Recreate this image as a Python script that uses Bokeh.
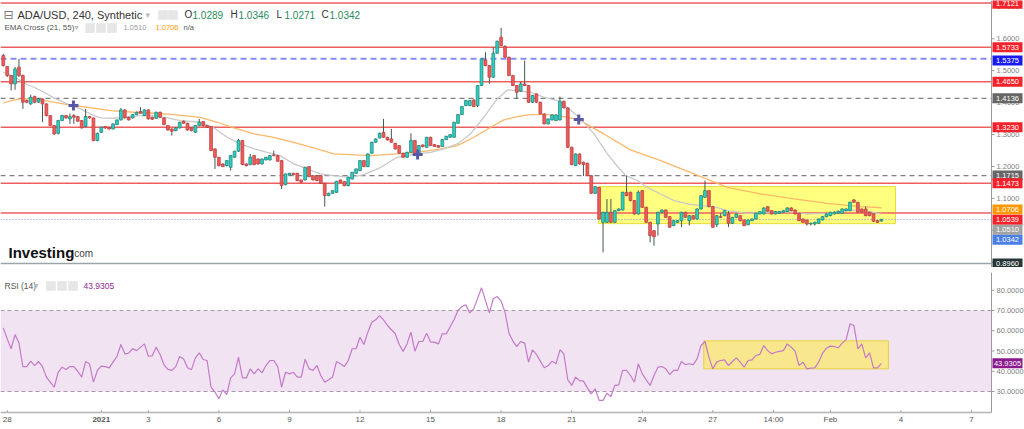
import pandas as pd
from bokeh.plotting import figure
from bokeh.layouts import column
from bokeh.models import Range1d, Label, BoxAnnotation, ColumnDataSource
from bokeh.core.properties import value
from bokeh.embed import file_html
from bokeh.resources import INLINE

FONT = "Liberation Sans"

# ---------------- data ----------------
symbol_title = "ADA/USD, 240, Synthetic"
first_bar_time = "2020-12-27 20:00"

opens = [
    1.5475, 1.5130, 1.4848, 1.4587, 1.5109, 1.4848, 1.4064, 1.3960, 1.4189, 1.4012,
    1.4116, 1.3960, 1.3594, 1.3280, 1.3040, 1.3437, 1.3594, 1.3489, 1.3594, 1.3562,
    1.3437, 1.3249, 1.3562, 1.3521, 1.2810, 1.3071, 1.3249, 1.3228, 1.3176, 1.3312,
    1.3458, 1.3771, 1.3541, 1.3521, 1.3625, 1.3719, 1.3594, 1.3771, 1.3541, 1.3510,
    1.3698, 1.3521, 1.3280, 1.3176, 1.3124, 1.3207, 1.3416, 1.3353, 1.3207, 1.3071,
    1.3280, 1.3406, 1.3280, 1.3249, 1.2550, 1.2288, 1.2079, 1.2026, 1.1974, 1.2288,
    1.2476, 1.2810, 1.2079, 1.2058, 1.2340, 1.2235, 1.2079, 1.2204, 1.2204, 1.2361,
    1.2340, 1.2183, 1.1431, 1.1734, 1.1786, 1.1786, 1.1577, 1.1577, 1.1995, 1.1713,
    1.1713, 1.1713, 1.1472, 1.1086, 1.1159, 1.1190, 1.1577, 1.1525, 1.1399, 1.1608,
    1.1786, 1.1870, 1.2183, 1.1995, 1.2413, 1.2758, 1.2893, 1.3071, 1.2914, 1.2862,
    1.2726, 1.2653, 1.2413, 1.2288, 1.2444, 1.2810, 1.2392, 1.2674, 1.2601, 1.2914,
    1.2685, 1.2653, 1.2622, 1.2841, 1.2914, 1.2914, 1.3353, 1.3625, 1.3907, 1.3907,
    1.4085, 1.3907, 1.4534, 1.5339, 1.5161, 1.4796, 1.5548, 1.6047, 1.5757, 1.5422,
    1.4848, 1.4534, 1.4357, 1.4587, 1.4534, 1.4012, 1.4273, 1.4012, 1.3646, 1.3333,
    1.3458, 1.3437, 1.3458, 1.4043, 1.3834, 1.2601, 1.2026, 1.2392, 1.2131, 1.2100,
    1.1713, 1.1159, 1.1347, 1.0250, 1.0250, 1.0564, 1.0250, 1.0616, 1.0637, 1.1191,
    1.1191, 1.0930, 1.0512, 1.1243, 1.0720, 1.0250, 0.9989, 1.0198, 1.0564, 1.0637,
    1.0428, 1.0146, 1.0250, 1.0302, 1.0564, 1.0302, 1.0459, 1.0355, 1.0668, 1.1034,
    1.1243, 1.0741, 1.0177, 1.0428, 1.0459, 1.0512, 1.0219, 1.0407, 1.0459, 1.0323,
    1.0177, 1.0302, 1.0355, 1.0512, 1.0512, 1.0741, 1.0616, 1.0512, 1.0533, 1.0564,
    1.0595, 1.0700, 1.0637, 1.0533, 1.0355, 1.0323, 1.0198, 1.0198, 1.0219, 1.0323,
    1.0428, 1.0459, 1.0512, 1.0533, 1.0533, 1.0616, 1.0616, 1.0950, 1.0877, 1.0668,
    1.0668, 1.0564, 1.0512, 1.0302, 1.0289,
]
highs = [
    1.5527, 1.5150, 1.4860, 1.5120, 1.5370, 1.4880, 1.4100, 1.4250, 1.4220, 1.4150,
    1.4130, 1.3980, 1.3610, 1.3290, 1.3460, 1.3620, 1.3620, 1.3660, 1.3640, 1.3580,
    1.3450, 1.3803, 1.3580, 1.3530, 1.3060, 1.3250, 1.3270, 1.3240, 1.3350, 1.3470,
    1.3830, 1.3790, 1.3560, 1.3640, 1.3720, 1.3855, 1.3790, 1.3790, 1.3560, 1.3720,
    1.3720, 1.3540, 1.3300, 1.3190, 1.3230, 1.3400, 1.3440, 1.3370, 1.3220, 1.3300,
    1.3489, 1.3420, 1.3300, 1.3260, 1.2570, 1.2300, 1.2100, 1.2200, 1.2360, 1.2490,
    1.2862, 1.2830, 1.2100, 1.2392, 1.2360, 1.2250, 1.2250, 1.2300, 1.2360, 1.2497,
    1.2360, 1.2200, 1.1780, 1.1800, 1.1800, 1.1800, 1.1590, 1.1990, 1.2010, 1.1730,
    1.1730, 1.1730, 1.1490, 1.1180, 1.1260, 1.1550, 1.1590, 1.1540, 1.1680, 1.1830,
    1.1940, 1.2200, 1.2200, 1.2410, 1.2780, 1.2880, 1.3060, 1.3489, 1.2930, 1.3176,
    1.2740, 1.2670, 1.2430, 1.2460, 1.3040, 1.2830, 1.2670, 1.2690, 1.2930, 1.2930,
    1.2700, 1.2670, 1.2860, 1.2960, 1.3010, 1.3400, 1.3640, 1.3890, 1.4080, 1.4090,
    1.4100, 1.4550, 1.5390, 1.5579, 1.5180, 1.5736, 1.5940, 1.6342, 1.5800, 1.5440,
    1.4860, 1.4550, 1.4650, 1.5318, 1.4550, 1.4240, 1.4290, 1.4030, 1.3660, 1.3500,
    1.3640, 1.3640, 1.4189, 1.4060, 1.3850, 1.2620, 1.2410, 1.2410, 1.2150, 1.2120,
    1.1730, 1.1380, 1.1360, 1.0580, 1.0980, 1.0982, 1.0630, 1.0690, 1.1210, 1.1713,
    1.1210, 1.0950, 1.1250, 1.1260, 1.0740, 1.0270, 1.0010, 1.0580, 1.0650, 1.0650,
    1.0440, 1.0320, 1.0320, 1.0580, 1.0580, 1.0480, 1.0480, 1.0690, 1.1100, 1.1557,
    1.1260, 1.0760, 1.0480, 1.0530, 1.0630, 1.0600, 1.0420, 1.0530, 1.0480, 1.0340,
    1.0340, 1.0370, 1.0550, 1.0600, 1.0720, 1.0760, 1.0630, 1.0600, 1.0600, 1.0630,
    1.0720, 1.0720, 1.0650, 1.0550, 1.0370, 1.0340, 1.0240, 1.0270, 1.0370, 1.0440,
    1.0530, 1.0580, 1.0600, 1.0620, 1.0690, 1.0690, 1.0900, 1.0980, 1.0890, 1.0680,
    1.0750, 1.0580, 1.0530, 1.0320, 1.0346,
]
lows = [
    1.5130, 1.4800, 1.4378, 1.4400, 1.4800, 1.3803, 1.3980, 1.3930, 1.3980, 1.3990,
    1.3385, 1.3570, 1.3260, 1.2990, 1.3000, 1.3420, 1.3500, 1.3333, 1.3333, 1.3400,
    1.3190, 1.3230, 1.3500, 1.2790, 1.2790, 1.3050, 1.3180, 1.3150, 1.3160, 1.3300,
    1.3440, 1.3500, 1.3440, 1.3500, 1.3610, 1.3650, 1.3580, 1.3470, 1.3460, 1.3490,
    1.3520, 1.3290, 1.3120, 1.2967, 1.3100, 1.3190, 1.3340, 1.3120, 1.3100, 1.3050,
    1.3260, 1.3250, 1.3210, 1.2480, 1.1922, 1.2000, 1.1980, 1.2000, 1.1870, 1.2270,
    1.2460, 1.2040, 1.2000, 1.2040, 1.2040, 1.2060, 1.2060, 1.2190, 1.2190, 1.2320,
    1.2150, 1.1295, 1.1410, 1.1720, 1.1730, 1.1540, 1.1490, 1.1560, 1.1660, 1.1560,
    1.1540, 1.1450, 1.0741, 1.1070, 1.1140, 1.1170, 1.1490, 1.1380, 1.1380, 1.1590,
    1.1770, 1.1850, 1.1980, 1.1980, 1.2400, 1.2740, 1.2880, 1.2900, 1.2810, 1.2740,
    1.2530, 1.2400, 1.2270, 1.2270, 1.2430, 1.2400, 1.2380, 1.2600, 1.2590, 1.2640,
    1.2610, 1.2590, 1.2610, 1.2830, 1.2900, 1.2900, 1.3340, 1.3610, 1.3890, 1.3890,
    1.3860, 1.3860, 1.4520, 1.5140, 1.4587, 1.4780, 1.5530, 1.5770, 1.5400, 1.4830,
    1.4520, 1.4116, 1.4340, 1.4520, 1.3990, 1.3990, 1.3990, 1.3630, 1.3320, 1.3320,
    1.3440, 1.3420, 1.3440, 1.3820, 1.2580, 1.2040, 1.2010, 1.2060, 1.1700, 1.1700,
    1.1140, 1.1140, 1.0330, 0.9310, 1.0230, 1.0230, 1.0230, 1.0600, 1.0620, 1.1070,
    1.0910, 1.0490, 1.0490, 1.0700, 1.0230, 0.9623, 0.9519, 0.9832, 1.0550, 1.0390,
    1.0080, 1.0130, 1.0230, 1.0100, 1.0390, 1.0150, 1.0340, 1.0340, 1.0650, 1.1020,
    1.0720, 1.0080, 1.0100, 1.0390, 1.0440, 1.0100, 1.0200, 1.0390, 1.0280, 1.0130,
    1.0160, 1.0290, 1.0340, 1.0500, 1.0500, 1.0580, 1.0500, 1.0500, 1.0520, 1.0550,
    1.0580, 1.0600, 1.0500, 1.0290, 1.0230, 1.0150, 1.0150, 1.0150, 1.0200, 1.0310,
    1.0410, 1.0440, 1.0500, 1.0520, 1.0520, 1.0600, 1.0600, 1.0860, 1.0550, 1.0550,
    1.0440, 1.0440, 1.0260, 1.0240, 1.0271,
]
closes = [
    1.5161, 1.4848, 1.4587, 1.5057, 1.4848, 1.4012, 1.4012, 1.4169, 1.4012, 1.4116,
    1.3960, 1.3594, 1.3280, 1.3019, 1.3437, 1.3594, 1.3521, 1.3562, 1.3541, 1.3416,
    1.3207, 1.3562, 1.3521, 1.2810, 1.3040, 1.3228, 1.3207, 1.3176, 1.3333, 1.3458,
    1.3771, 1.3521, 1.3458, 1.3625, 1.3698, 1.3667, 1.3771, 1.3489, 1.3479, 1.3698,
    1.3541, 1.3312, 1.3144, 1.3103, 1.3207, 1.3385, 1.3353, 1.3144, 1.3124, 1.3280,
    1.3385, 1.3270, 1.3228, 1.2497, 1.2288, 1.2026, 1.1995, 1.2183, 1.2340, 1.2476,
    1.2810, 1.2058, 1.2026, 1.2288, 1.2058, 1.2079, 1.2235, 1.2288, 1.2340, 1.2340,
    1.2162, 1.1400, 1.1765, 1.1786, 1.1744, 1.1556, 1.1504, 1.1974, 1.1681, 1.1577,
    1.1556, 1.1472, 1.1086, 1.1159, 1.1243, 1.1535, 1.1504, 1.1399, 1.1661, 1.1817,
    1.1922, 1.2183, 1.1995, 1.2392, 1.2758, 1.2862, 1.3040, 1.2914, 1.2831, 1.2758,
    1.2549, 1.2413, 1.2288, 1.2444, 1.2810, 1.2413, 1.2653, 1.2622, 1.2914, 1.2653,
    1.2622, 1.2601, 1.2841, 1.2946, 1.2998, 1.3385, 1.3625, 1.3876, 1.4064, 1.4064,
    1.3876, 1.4534, 1.5370, 1.5161, 1.4796, 1.5548, 1.5924, 1.5788, 1.5422, 1.4848,
    1.4534, 1.4325, 1.4587, 1.4534, 1.4012, 1.4221, 1.4012, 1.3646, 1.3333, 1.3489,
    1.3615, 1.3615, 1.4043, 1.3834, 1.2601, 1.2058, 1.2392, 1.2079, 1.2058, 1.1713,
    1.1159, 1.1368, 1.0355, 1.0564, 1.0564, 1.0250, 1.0616, 1.0668, 1.1191, 1.1086,
    1.0930, 1.0512, 1.1191, 1.0720, 1.0250, 0.9832, 0.9801, 1.0564, 1.0637, 1.0407,
    1.0094, 1.0302, 1.0302, 1.0564, 1.0407, 1.0459, 1.0355, 1.0668, 1.1086, 1.1243,
    1.0741, 1.0094, 1.0459, 1.0407, 1.0616, 1.0219, 1.0407, 1.0512, 1.0302, 1.0146,
    1.0323, 1.0355, 1.0533, 1.0585, 1.0700, 1.0595, 1.0512, 1.0585, 1.0585, 1.0616,
    1.0700, 1.0616, 1.0512, 1.0302, 1.0250, 1.0198, 1.0219, 1.0250, 1.0355, 1.0428,
    1.0512, 1.0564, 1.0564, 1.0595, 1.0668, 1.0668, 1.0877, 1.0877, 1.0564, 1.0564,
    1.0459, 1.0459, 1.0282, 1.0250, 1.0342,
]
rsi14 = [
    61.4, 56.0, 51.1, 58.1, 53.9, 42.3, 42.3, 45.0, 42.8, 44.8,
    42.3, 37.1, 34.6, 32.1, 39.5, 42.0, 40.9, 42.3, 42.3, 40.0,
    37.1, 44.8, 43.7, 34.6, 40.4, 42.5, 42.3, 41.7, 44.5, 47.3,
    53.2, 48.6, 48.9, 51.2, 50.2, 51.8, 53.5, 47.4, 47.6, 51.9,
    48.3, 43.2, 40.9, 40.4, 42.3, 47.3, 46.1, 41.7, 40.7, 46.6,
    49.1, 45.8, 45.3, 32.1, 29.7, 26.4, 30.8, 28.5, 36.7, 38.7,
    47.0, 36.7, 36.7, 41.2, 38.7, 41.2, 39.2, 42.8, 45.3, 45.3,
    42.3, 32.1, 39.5, 38.7, 39.5, 37.1, 37.1, 46.0, 41.2, 40.4,
    42.8, 37.9, 34.6, 35.8, 37.1, 44.8, 43.7, 42.3, 45.3, 51.1,
    51.1, 56.8, 53.2, 59.3, 64.2, 65.4, 67.5, 65.4, 62.6, 60.5,
    58.5, 53.2, 49.8, 53.5, 59.3, 49.9, 54.7, 54.7, 58.8, 54.4,
    54.4, 53.5, 58.5, 58.5, 62.0, 65.6, 70.0, 72.0, 72.8, 68.8,
    70.8, 76.0, 81.2, 75.0, 68.8, 75.8, 76.9, 74.6, 69.2, 58.8,
    54.9, 52.2, 54.7, 53.9, 44.5, 50.6, 48.3, 45.0, 41.7, 42.8,
    45.0, 43.7, 50.6, 48.6, 35.8, 33.0, 37.1, 35.4, 35.1, 31.8,
    28.8, 31.3, 25.6, 25.6, 29.2, 27.5, 33.0, 33.3, 40.4, 40.4,
    37.9, 34.6, 43.7, 38.7, 35.8, 33.0, 37.9, 42.0, 42.3, 41.2,
    38.4, 40.4, 40.4, 44.8, 43.3, 43.7, 43.3, 46.1, 52.7, 54.7,
    47.0, 41.2, 44.5, 45.3, 45.6, 42.8, 44.8, 46.6, 44.5, 42.0,
    45.3, 45.6, 47.8, 48.3, 52.7, 50.2, 48.6, 49.4, 49.8, 50.2,
    53.5, 51.9, 49.9, 42.8, 44.5, 41.2, 41.5, 41.7, 44.5, 48.9,
    51.4, 52.4, 52.2, 51.6, 53.9, 55.5, 63.4, 62.6, 51.1, 53.5,
    46.6, 49.1, 41.7, 41.7, 43.9305,
]
# EMA curves: (bar number, value)
ema21_points = [
    (0, 1.4952), (2.7, 1.4816), (5.3, 1.4607), (7.8, 1.4482), (10.4, 1.4325),
    (12.9, 1.4148), (16.3, 1.3960), (19.7, 1.3803), (23.1, 1.3594), (24.8, 1.3521),
    (28.2, 1.3510), (30.8, 1.3541), (35, 1.3594), (38.4, 1.3594), (41.8, 1.3521),
    (45.2, 1.3437), (50.3, 1.3385), (53.7, 1.3207), (57.1, 1.2914), (60.5, 1.2706),
    (64, 1.2549), (67.3, 1.2444), (70.7, 1.2340), (74.1, 1.2079), (77.5, 1.1922),
    (80.9, 1.1765), (84.3, 1.1713), (88.6, 1.1661), (92, 1.1744), (96.3, 1.1974),
    (100.5, 1.2288), (105.6, 1.2392), (109, 1.2444), (112.4, 1.2549), (115.8, 1.2706),
    (119.2, 1.3019), (122.6, 1.3542), (126, 1.4116), (128.6, 1.4398), (131.1, 1.4377),
    (134.5, 1.4325), (137.9, 1.4169), (141.3, 1.4064), (143.9, 1.3855), (147.3, 1.3489),
    (150.7, 1.3019), (154.1, 1.2392), (156.5, 1.2030), (158.8, 1.1713), (161.8, 1.1557),
    (164.3, 1.1347), (167.7, 1.1138), (171.1, 1.0930), (174.5, 1.0825), (177.9, 1.0773),
    (181.3, 1.0741), (184.7, 1.0616), (189.8, 1.0533), (194.9, 1.0564), (200, 1.0585),
    (205.1, 1.0512), (210.2, 1.0533), (215.3, 1.0616), (218.7, 1.0637), (222.1, 1.0564),
    (224, 1.0510),
]
ema55_points = [
    (0, 1.3980), (1.9, 1.4064), (4.4, 1.4116), (7.8, 1.4116), (12.1, 1.4033),
    (16.3, 1.3939), (21.4, 1.3855), (27.4, 1.3751), (33.3, 1.3698), (38.4, 1.3667),
    (43.5, 1.3625), (50.3, 1.3541), (54.6, 1.3385), (58.8, 1.3207), (64, 1.3019),
    (69, 1.2914), (74.1, 1.2758), (79.2, 1.2580), (84.3, 1.2392), (88.6, 1.2371),
    (93.7, 1.2340), (100.5, 1.2392), (105.6, 1.2444), (111.6, 1.2549), (115.8, 1.2653),
    (120.1, 1.2914), (124.3, 1.3228), (127.7, 1.3458), (131.1, 1.3562), (134.5, 1.3625),
    (138.8, 1.3625), (143, 1.3562), (146.8, 1.3469), (153.2, 1.3019), (160, 1.2520),
    (167.7, 1.2183), (176.2, 1.1766), (184.7, 1.1347), (193.2, 1.1138), (201.7, 1.0982),
    (210.2, 1.0846), (218.7, 1.0741), (224, 1.0706),
]
cross_bars = [17.9, 105.7, 146.8]
cross_prices = [1.3909, 1.2372, 1.3469]

# horizontal levels
red_levels = [1.7121, 1.5733, 1.4650, 1.3230, 1.1473, 1.0539]
blue_dashed_levels = [1.5375]
gray_dashed_levels = [1.4136, 1.1715]
floor_level = 0.8960
last_price = 1.0342
ema21_last = 1.0510
ema55_last = 1.0706
rsi_last = 43.9305
ohlc_last = {"O": 1.0289, "H": 1.0346, "L": 1.0271, "C": 1.0342}

# highlighted zones (bar numbers and values)
price_zone = dict(bar0=151.8, bar1=227.6, low=1.0209, high=1.1369)
rsi_zone = dict(bar0=178.7, bar1=225.8, low=41.2, high=55.0)

price_ticks = [0.9, 1.0, 1.1, 1.2, 1.3, 1.4, 1.5, 1.6, 1.7]
rsi_ticks = [30, 40, 50, 60, 70, 80]
date_ticks = ["2020-12-28", "2021-01-01", "2021-01-03", "2021-01-06", "2021-01-09",
              "2021-01-12", "2021-01-15", "2021-01-18", "2021-01-21", "2021-01-24",
              "2021-01-27", "2021-01-29 14:00", "2021-02-01", "2021-02-04", "2021-02-07"]
date_labels = ["28", "2021", "3", "6", "9", "12", "15", "18", "21", "24", "27",
               "14:00", "Feb", "4", "7"]
date_label_styles = ["normal", "bold"] + ["normal"] * 13

# ---------------- geometry ----------------
W = 1024
PX_PER_HOUR = 23.52 / 24.0
X_START = -6.84
X_END = X_START + W / PX_PER_HOUR
AXIS_PX = 991


def hx(px):
    return X_START + px / PX_PER_HOUR


AXIS_X = hx(AXIS_PX)

n = min(len(opens), len(highs), len(lows), len(closes))
origin = pd.Timestamp("2020-12-28 00:00")
bar0 = pd.Timestamp(first_bar_time)
H0 = (bar0 - origin) / pd.Timedelta(hours=1)


def bar_x(b):
    return H0 + 4.0 * b


def date_x(s):
    return (pd.Timestamp(s) - origin) / pd.Timedelta(hours=1)


xs = [bar_x(i) for i in range(n)]
up = [closes[i] >= opens[i] for i in range(n)]


def src(mask):
    idx = [i for i in range(n) if mask(i)]
    return ColumnDataSource(dict(
        x=[xs[i] for i in idx],
        top=[max(opens[i], closes[i]) for i in idx],
        bottom=[min(opens[i], closes[i]) for i in idx],
        hi=[highs[i] for i in idx],
        lo=[lows[i] for i in idx],
    ))


x_range = Range1d(X_START, X_END)
MAIN_H = 267
P_LO, P_HI = 0.8835, 1.7199
P_PER_PX = (P_HI - P_LO) / MAIN_H
RSI_H = 155
R_LO, R_HI = 12.22, 88.77
R_PER_PX = (R_HI - R_LO) / RSI_H


def rsi_at_px(py):
    # RSI-panel value at a pixel row measured from the panel's top
    return R_HI - py * R_PER_PX


def base_fig(height, y_range):
    p = figure(width=W, height=height, x_range=x_range, y_range=y_range,
               output_backend="svg", toolbar_location=None, x_axis_location=None,
               y_axis_location=None, min_border_left=0, min_border_right=0,
               min_border_top=0, min_border_bottom=0)
    p.grid.visible = False
    p.outline_line_color = None
    p.background_fill_color = "white"
    p.border_fill_color = "white"
    return p


def right_axis(p, ticks, fmt, lo, hi):
    p.segment(x0=[AXIS_X], y0=[lo], x1=[AXIS_X], y1=[hi], line_color="#9a9a9a", line_width=1)
    p.segment(x0=[AXIS_X] * len(ticks), y0=ticks, x1=[hx(AXIS_PX + 3)] * len(ticks), y1=ticks,
              line_color="#9a9a9a", line_width=1)
    p.text(x=[hx(AXIS_PX + 5)] * len(ticks), y=ticks, text=[fmt.format(t) for t in ticks],
           text_font=value(FONT), text_font_size=value("7.5px"), text_color="#808080",
           text_baseline="middle", text_align="left")


def tag(p, y, text, bg, per_px, shift_px=0):
    yy = y - shift_px * per_px
    p.rect(x=[hx(1007)], y=[yy], width=30, height=10, width_units="screen",
           height_units="screen", fill_color=bg, line_color=None)
    p.text(x=[hx(1007)], y=[yy], text=[text], text_font=value(FONT),
           text_font_size=value("7.5px"), text_color="white", text_align="center",
           text_baseline="middle")


def scr_label(p, frame_h, x, y_px, text, size, color, bold=False, font=FONT):
    p.add_layout(Label(x=x, y=frame_h - y_px, x_units="screen", y_units="screen",
                       text=text, text_font_size=size, text_color=color,
                       text_font=font, text_baseline="middle",
                       text_font_style="bold" if bold else "normal"))


def icon_box(p, frame_h, x0, x1, y0, y1):
    p.add_layout(BoxAnnotation(left=x0, right=x1, top=frame_h - y0, bottom=frame_h - y1,
                               left_units="screen", right_units="screen",
                               top_units="screen", bottom_units="screen",
                               fill_color="#e6e6e6", fill_alpha=1, line_color="#d6d6d6"))


def hline(p, v, color, width, dash="solid"):
    p.segment(x0=[X_START], y0=[v], x1=[AXIS_X], y1=[v], line_color=color,
              line_width=width, line_dash=dash)


# ---------------- main price panel ----------------
p1 = base_fig(MAIN_H, Range1d(P_LO, P_HI))

p1.quad(left=[bar_x(price_zone["bar0"])], right=[bar_x(price_zone["bar1"])],
        bottom=[price_zone["low"]], top=[price_zone["high"]],
        fill_color="#ffff00", fill_alpha=0.5, line_color="#e8dc3a", line_width=1)

for v in red_levels:
    hline(p1, v, "#ef5f5f", 1.5)
for v in blue_dashed_levels:
    hline(p1, v, "#8a8af5", 2, "6 4")
for v in gray_dashed_levels:
    hline(p1, v, "#808080", 1.2, "5 4")
hline(p1, floor_level, "#9aa5aa", 1.5)
hline(p1, last_price, "#6f8ee0", 1, "1 2")

p1.line([bar_x(b) for b, _ in ema55_points], [v for _, v in ema55_points],
        line_color="#fbb86a", line_width=1.3)
p1.line([bar_x(b) for b, _ in ema21_points], [v for _, v in ema21_points],
        line_color="#c9c9c9", line_width=1.3)

WICK = "#44594f"
up_src = src(lambda i: up[i])
dn_src = src(lambda i: not up[i])
for s in (up_src, dn_src):
    p1.segment(x0="x", y0="lo", x1="x", y1="hi", source=s, line_color=WICK, line_width=1)
p1.vbar(x="x", width=2.9, top="top", bottom="bottom", source=up_src,
        fill_color="#2ccfc2", line_color="#1d7f73", line_width=0.7)
p1.vbar(x="x", width=2.9, top="top", bottom="bottom", source=dn_src,
        fill_color="#ef5a5a", line_color="#b73c3c", line_width=0.7)

p1.scatter([bar_x(b) for b in cross_bars], cross_prices, marker="cross", size=10,
           line_width=3, line_color="#5858a8")

right_axis(p1, price_ticks, "{:.4f}", P_LO, P_HI)

RED_TAG = "#f4222a"
tag(p1, 1.7121, "1.7121", RED_TAG, P_PER_PX, 0.8)
tag(p1, 1.5733, "1.5733", RED_TAG, P_PER_PX)
tag(p1, blue_dashed_levels[0], f"{blue_dashed_levels[0]:.4f}", "#1a1af0", P_PER_PX, 1.8)
tag(p1, 1.4650, "1.4650", RED_TAG, P_PER_PX)
tag(p1, gray_dashed_levels[0], f"{gray_dashed_levels[0]:.4f}", "#666666", P_PER_PX)
tag(p1, 1.3230, "1.3230", RED_TAG, P_PER_PX)
tag(p1, gray_dashed_levels[1], f"{gray_dashed_levels[1]:.4f}", "#666666", P_PER_PX)
tag(p1, 1.1473, "1.1473", RED_TAG, P_PER_PX)
tag(p1, ema55_last, f"{ema55_last:.4f}", "#ff9800", P_PER_PX, 1.7)
tag(p1, 1.0539, "1.0539", RED_TAG, P_PER_PX, 6.7)
tag(p1, ema21_last, f"{ema21_last:.4f}", "#a3a3a3", P_PER_PX, 15.8)
tag(p1, last_price, f"{last_price:.4f}", "#4a7fe6", P_PER_PX, 20.4)
tag(p1, floor_level, f"{floor_level:.4f}", "#253535", P_PER_PX)

# header row 1
scr_label(p1, MAIN_H, 3, 14, "\u229f", "12px", "#777777", font="DejaVu Sans")
scr_label(p1, MAIN_H, 17, 14, symbol_title, "11px", "#333333")
scr_label(p1, MAIN_H, 145, 14, "\u25be", "9px", "#bbbbbb", font="DejaVu Sans")
icon_box(p1, MAIN_H, 158, 167, 10, 19)
icon_box(p1, MAIN_H, 168, 177, 10, 19)
ohlc_x = {"O": 184, "H": 230, "L": 276, "C": 321}
for k, v in ohlc_last.items():
    scr_label(p1, MAIN_H, ohlc_x[k], 14, k, "10px", "#333333")
    scr_label(p1, MAIN_H, ohlc_x[k] + 8, 14, f"{v:.4f}", "10px", "#2a8a5c")

# header row 2
scr_label(p1, MAIN_H, 4, 27, "EMA Cross (21, 55)", "8px", "#555555")
scr_label(p1, MAIN_H, 74, 27, "\u25be", "8px", "#bbbbbb", font="DejaVu Sans")
icon_box(p1, MAIN_H, 85, 94, 23, 32)
icon_box(p1, MAIN_H, 96, 105, 23, 32)
icon_box(p1, MAIN_H, 107, 116, 23, 32)
scr_label(p1, MAIN_H, 123, 27, f"{ema21_last:.4f}", "7.5px", "#9a9a9a")
scr_label(p1, MAIN_H, 155, 27, f"{ema55_last:.4f}", "7.5px", "#ff9800")
scr_label(p1, MAIN_H, 183, 27, "n/a", "7.5px", "#555555")

# logo
scr_label(p1, MAIN_H, 8, 252, "Investing", "15px", "#111111", bold=True)
scr_label(p1, MAIN_H, 71, 253, ".com", "10px", "#444444")

# ---------------- separator ----------------
sep = figure(width=W, height=5, output_backend="svg", toolbar_location=None,
             x_axis_location=None, y_axis_location=None, min_border=0,
             x_range=Range1d(0, 1), y_range=Range1d(0, 1))
sep.grid.visible = False
sep.outline_line_color = None
sep.background_fill_color = "#5a5a5a"
sep.border_fill_color = "#5a5a5a"

# ---------------- RSI panel (frame covers time axis too) ----------------
p2 = base_fig(RSI_H, Range1d(R_LO, R_HI))
AXIS_LINE_Y = rsi_at_px(140)
LABEL_Y = rsi_at_px(147)

p2.quad(left=[X_START], right=[AXIS_X], bottom=[30], top=[70],
        fill_color="#f1e3f2", fill_alpha=1, line_color=None)
for lv in (30, 70):
    hline(p2, lv, "#a898a8", 1, "4 3")

p2.quad(left=[bar_x(rsi_zone["bar0"])], right=[bar_x(rsi_zone["bar1"])],
        bottom=[rsi_zone["low"]], top=[rsi_zone["high"]],
        fill_color="#ffeb3b", fill_alpha=0.55, line_color="#e6d23a", line_width=1)
m = min(len(rsi14), n)
p2.line(xs[:m], rsi14[:m], line_color="#c47ac9", line_width=1.2)

# time axis
tx = [date_x(d) for d in date_ticks]
p2.segment(x0=[X_START], y0=[AXIS_LINE_Y], x1=[AXIS_X], y1=[AXIS_LINE_Y],
           line_color="#b5b5b5", line_width=1.5)
p2.segment(x0=tx, y0=[AXIS_LINE_Y] * len(tx), x1=tx,
           y1=[AXIS_LINE_Y + 2.5 * R_PER_PX] * len(tx), line_color="#aaaaaa", line_width=1)
date_src = ColumnDataSource(dict(x=tx, y=[LABEL_Y] * len(tx), text=date_labels,
                                 style=date_label_styles))
p2.text(x="x", y="y", text="text", source=date_src, text_font=value(FONT),
        text_font_style="style", text_font_size=value("8px"), text_color="#555555",
        text_align="center", text_baseline="middle")

right_axis(p2, rsi_ticks, "{:.4f}", AXIS_LINE_Y, R_HI)
tag(p2, rsi_last, f"{rsi_last:.4f}", "#8a1a8e", R_PER_PX)

scr_label(p2, RSI_H, 4, 13, "RSI (14)", "8.5px", "#555555")
scr_label(p2, RSI_H, 34, 13, "\u25be", "8px", "#bbbbbb", font="DejaVu Sans")
icon_box(p2, RSI_H, 46, 55, 9, 18)
icon_box(p2, RSI_H, 57, 66, 9, 18)
icon_box(p2, RSI_H, 68, 77, 9, 18)
scr_label(p2, RSI_H, 83, 13, f"{rsi_last:.4f}", "8.5px", "#8e2a92")

# bottom strip
strip = figure(width=W, height=2, output_backend="svg", toolbar_location=None,
               x_axis_location=None, y_axis_location=None, min_border=0,
               x_range=Range1d(0, 1), y_range=Range1d(0, 1))
strip.grid.visible = False
strip.outline_line_color = None
strip.background_fill_color = "#e6e6e6"
strip.border_fill_color = "#e6e6e6"

layout = column(p1, sep, p2, strip, spacing=0)
open("out.html", "w").write(file_html(layout, INLINE))
